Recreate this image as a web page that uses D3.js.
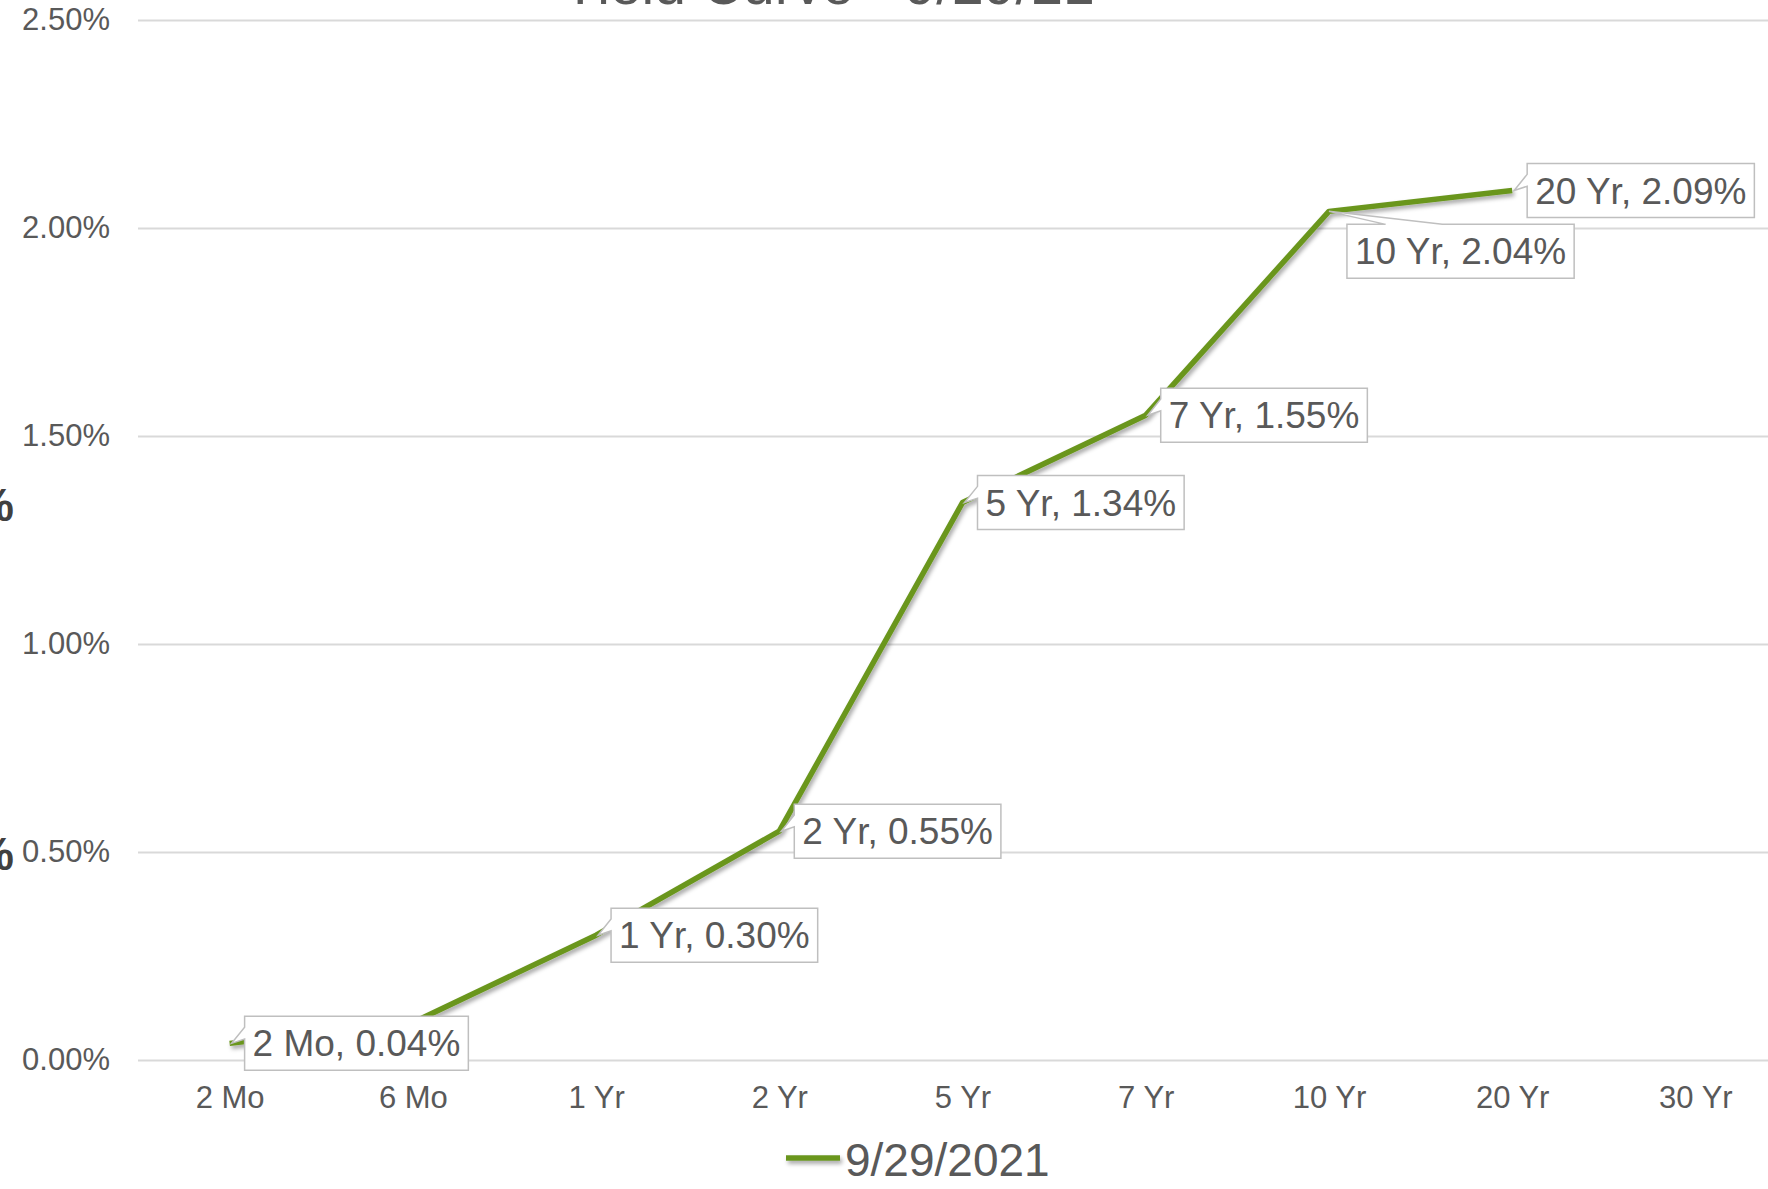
<!DOCTYPE html>
<html>
<head>
<meta charset="utf-8">
<script src="https://cdn.jsdelivr.net/npm/d3@7"></script>
<style>
	html, body { margin: 0; padding: 0; background: #fff; overflow: hidden; }
	text { font-family: 'Liberation Sans', Arial, sans-serif; }
</style>
</head>
<body>
<div id="chart_container"></div>
<script>
// Chart data
const tenors = ['2 Mo', '6 Mo', '1 Yr', '2 Yr', '5 Yr', '7 Yr', '10 Yr', '20 Yr', '30 Yr']
const yields = [0.04, 0.09, 0.30, 0.55, 1.34, 1.55, 2.04, 2.09, null]
const yTicks = [0, 0.5, 1, 1.5, 2, 2.5]
const seriesName = '9/29/2021'
const chartTitle = 'Yield Curve - 9/29/21'

// Set Chart Dimensions
const chartWidth = 1768
const chartHeight = 1189
const plotLeft = 138
const plotRight = 1787
const plotTop = 20
const plotBottom = 1060

// Colors
const lineColor = '#6a961f'
const gridColor = '#d9d9d9'
const textColor = '#595959'
const boxStroke = '#bfbfbf'

// Set XY scales
let scaleX = d3.scalePoint()
	.domain(tenors)
	.range([plotLeft, plotRight])
	.padding(0.5)
let scaleY = d3.scaleLinear()
	.domain([0, 2.5])
	.range([plotBottom, plotTop])

// Create Chart Area
let svg = d3.select('#chart_container')
	.append('svg')
	.attr('width', chartWidth)
	.attr('height', chartHeight)

let defs = svg.append('defs')
defs.append('filter')
	.attr('id', 'shadow')
	.attr('filterUnits', 'userSpaceOnUse')
	.attr('x', 0).attr('y', 0)
	.attr('width', chartWidth).attr('height', chartHeight)
	.append('feDropShadow')
	.attr('dx', 2).attr('dy', 3)
	.attr('stdDeviation', 2)
	.attr('flood-color', '#000')
	.attr('flood-opacity', 0.35)

// Title (mostly cut off at the top edge)
svg.append('text')
	.attr('x', 828)
	.attr('y', 4)
	.attr('text-anchor', 'middle')
	.style('font-size', '57px')
	.style('fill', textColor)
	.text(chartTitle)

// Fragments of bold text at the left edge
;[1.34, 0.5].forEach((v) => {
	svg.append('text')
		.attr('x', 14)
		.attr('y', scaleY(v) + 18)
		.attr('text-anchor', 'end')
		.style('font-size', '46px')
		.style('font-weight', 'bold')
		.style('fill', '#404040')
		.text('%')
})

// Gridlines
let grid = svg.append('g')
	.attr('transform', 'translate(' + plotLeft + ',0)')
	.call(d3.axisLeft(scaleY).tickValues(yTicks).tickSize(-(plotRight - plotLeft)).tickFormat(''))
grid.select('.domain').remove()
grid.selectAll('line')
	.style('stroke', gridColor)
	.style('stroke-width', '2px')

// Y axis
let yAxis = svg.append('g')
	.attr('transform', 'translate(' + plotLeft + ',0)')
	.call(d3.axisLeft(scaleY)
		.tickValues(yTicks)
		.tickSize(0)
		.tickPadding(28)
		.tickFormat((d) => d3.format('.2f')(d) + '%'))
yAxis.select('.domain').remove()
yAxis.selectAll('text')
	.style('font-size', '31px')
	.style('fill', textColor)
	.style('font-family', "'Liberation Sans', Arial, sans-serif")

// X axis
let xAxis = svg.append('g')
	.attr('transform', 'translate(0,' + plotBottom + ')')
	.call(d3.axisBottom(scaleX).tickSize(0).tickPadding(26))
xAxis.select('.domain').remove()
xAxis.selectAll('text')
	.style('font-size', '31px')
	.style('fill', textColor)
	.style('font-family', "'Liberation Sans', Arial, sans-serif")

// Yield line
let points = tenors.map((t, i) => ({ tenor: t, value: yields[i] }))
let line = d3.line()
	.defined((d) => d.value != null)
	.x((d) => scaleX(d.tenor))
	.y((d) => scaleY(d.value))
svg.append('path')
	.datum(points)
	.attr('d', line)
	.style('fill', 'none')
	.style('stroke', lineColor)
	.style('stroke-width', '5.5px')
	.style('stroke-linejoin', 'round')
	.attr('filter', 'url(#shadow)')

// Data label callouts
const unlabelled = ['6 Mo']
const belowLabels = ['10 Yr']
let labelLayer = svg.append('g')
points.filter((d) => d.value != null && !unlabelled.includes(d.tenor)).forEach((d) => {
	let px = scaleX(d.tenor)
	let py = scaleY(d.value)
	let g = labelLayer.append('g')
	let txt = g.append('text')
		.style('font-size', '37px')
		.style('fill', textColor)
		.text(d.tenor + ', ' + d3.format('.2f')(d.value) + '%')
	let tw = txt.node().getComputedTextLength()
	let w = tw + 16
	let h = 54
	let x0, y0, path
	if (belowLabels.includes(d.tenor)) {
		x0 = px + 18
		y0 = py + 13
		let a = x0 + w * 0.17
		let b = x0 + w * 0.42
		path = 'M' + x0 + ',' + y0 + 'L' + a + ',' + y0 + 'L' + px + ',' + py + 'L' + b + ',' + y0 +
			'L' + (x0 + w) + ',' + y0 + 'L' + (x0 + w) + ',' + (y0 + h) + 'L' + x0 + ',' + (y0 + h) + 'Z'
	} else {
		x0 = px + 15
		y0 = py - h / 2
		let a = y0 + h * 0.2
		let b = y0 + h * 0.42
		path = 'M' + x0 + ',' + y0 + 'L' + (x0 + w) + ',' + y0 + 'L' + (x0 + w) + ',' + (y0 + h) +
			'L' + x0 + ',' + (y0 + h) + 'L' + x0 + ',' + b + 'L' + (px + 2) + ',' + py + 'L' + x0 + ',' + a + 'Z'
	}
	g.insert('path', 'text')
		.attr('d', path)
		.style('fill', '#fff')
		.style('stroke', boxStroke)
		.style('stroke-width', '1.5px')
	txt.attr('x', x0 + 8)
		.attr('y', y0 + h / 2 + 13)
})

// Legend
let legend = svg.append('g')
legend.append('line')
	.attr('x1', 786).attr('x2', 840)
	.attr('y1', 1158).attr('y2', 1158)
	.style('stroke', lineColor)
	.style('stroke-width', '5.5px')
	.attr('filter', 'url(#shadow)')
legend.append('text')
	.attr('x', 845)
	.attr('y', 1176)
	.style('font-size', '46px')
	.style('fill', textColor)
	.text(seriesName)
</script>
</body>
</html>
